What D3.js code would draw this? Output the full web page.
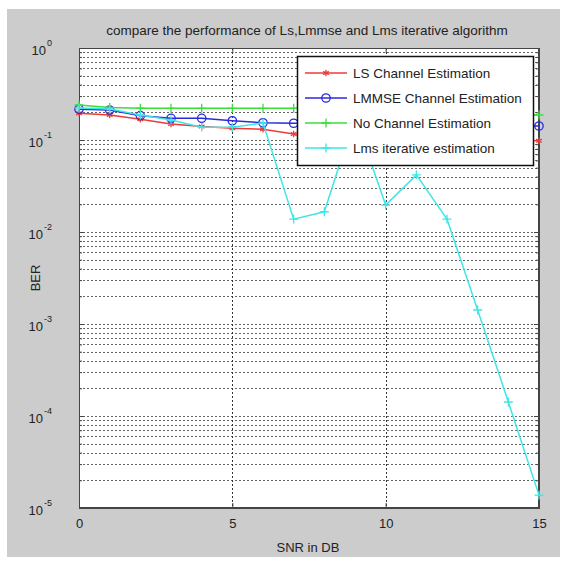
<!DOCTYPE html>
<html>
<head>
<meta charset="utf-8">
<script src="https://cdn.jsdelivr.net/npm/d3@7"></script>
<style>
  body { margin: 0; background: #fff; }
  svg text { font-family: "Liberation Sans", Arial, sans-serif; fill: #222; }
</style>
</head>
<body>
<svg width="566" height="561"></svg>
<script>
// data
var snr = [0, 1, 2, 3, 4, 5, 6, 7, 8, 9, 10, 11, 12, 13, 14, 15];
var lsBer = [0.195, 0.187, 0.168, 0.149, 0.140, 0.134, 0.131, 0.116, 0.113, 0.111, 0.109, 0.107, 0.105, 0.102, 0.100, 0.098];
var lmmseBer = [0.216, 0.212, 0.184, 0.172, 0.172, 0.162, 0.154, 0.152, 0.151, 0.150, 0.149, 0.148, 0.147, 0.145, 0.144, 0.142];
var noEstBer = [0.240, 0.226, 0.222, 0.221, 0.221, 0.221, 0.221, 0.221, 0.218, 0.214, 0.210, 0.206, 0.202, 0.197, 0.192, 0.187];
var lmsBer = [0.223, 0.217, 0.187, 0.165, 0.138, 0.138, 0.153, 0.0138, 0.0166, 0.18, 0.0196, 0.0418, 0.0138, 0.00142, 0.000142, 0.0000138];
var seriesNames = ["LS Channel Estimation", "LMMSE Channel Estimation", "No Channel Estimation", "Lms iterative estimation"];
var xTicks = [0, 5, 10, 15];
var yExponents = [0, -1, -2, -3, -4, -5];

var svg = d3.select("svg");

// gray figure background
svg.append("rect").attr("x", 7).attr("y", 9).attr("width", 553).attr("height", 548).attr("fill", "#cccccc");

// plot box (window.top is reserved, so use own names)
var pL = 79, pR = 539, pT = 48, pB = 508;

var x = d3.scaleLinear().domain([0, 15]).range([pL, pR]);
var y = d3.scaleLog().domain([1e-5, 1]).range([pB, pT]);

svg.append("rect").attr("x", pL).attr("y", pT).attr("width", pR - pL).attr("height", pB - pT).attr("fill", "#fff");

// minor + major grid on the log axis
var minorVals = [];
yExponents.slice(1).forEach(function (e) {
    for (var m = 2; m <= 9; m++) minorVals.push(m * Math.pow(10, e));
});
var majorVals = yExponents.map(function (e) { return Math.pow(10, e); });

var grid = svg.append("g").attr("stroke", "#666").attr("stroke-dasharray", "2,2").attr("stroke-width", 1);
grid.selectAll(".hg").data(minorVals.concat(majorVals)).enter().append("line")
    .attr("x1", pL).attr("x2", pR)
    .attr("y1", function (d) { return Math.round(y(d)) + 0.5; })
    .attr("y2", function (d) { return Math.round(y(d)) + 0.5; });
grid.selectAll(".vg").data([5, 10]).enter().append("line")
    .attr("y1", pT).attr("y2", pB)
    .attr("x1", function (d) { return Math.round(x(d)) + 0.5; })
    .attr("x2", function (d) { return Math.round(x(d)) + 0.5; })
    .attr("stroke", "#333");

// axes (ticks inside, like matlab)
var xAxis = d3.axisBottom(x).tickValues(xTicks).tickSize(-5).tickPadding(11).tickFormat(d3.format("d"));
var gx = svg.append("g").attr("transform", "translate(0," + pB + ")").call(xAxis);
svg.append("g").attr("transform", "translate(0," + pT + ")")
    .call(d3.axisTop(x).tickValues(xTicks).tickSize(-5).tickFormat(""));

var gy = svg.append("g").attr("transform", "translate(" + pL + ",0)")
    .call(d3.axisLeft(y).tickValues(majorVals).tickSize(-5).tickFormat(""));
svg.append("g").attr("transform", "translate(" + pL + ",0)")
    .call(d3.axisLeft(y).tickValues(minorVals).tickSize(-3).tickFormat(""));
svg.append("g").attr("transform", "translate(" + pR + ",0)")
    .call(d3.axisRight(y).tickValues(majorVals).tickSize(-5).tickFormat(""));
svg.append("g").attr("transform", "translate(" + pR + ",0)")
    .call(d3.axisRight(y).tickValues(minorVals).tickSize(-3).tickFormat(""));

svg.selectAll(".domain").attr("stroke", "#444");
svg.selectAll(".tick line").attr("stroke", "#444");
gx.selectAll("text").attr("font-size", 13).attr("fill", "#222").style("font-family", "Liberation Sans, Arial, sans-serif");

// y tick labels 10^e, one text with a raised tspan
gy.selectAll(".tick").each(function (d) {
    var t = d3.select(this).append("text").attr("x", -27).attr("y", 6)
        .attr("font-size", 13).attr("fill", "#222")
        .style("font-family", "Liberation Sans, Arial, sans-serif");
    t.append("tspan").text("10");
    t.append("tspan").attr("dy", -9).attr("dx", 1).attr("font-size", 9)
        .text(String(Math.round(Math.log10(d))));
});

// box
svg.append("rect").attr("x", pL + 0.5).attr("y", pT + 0.5).attr("width", pR - pL - 1).attr("height", pB - pT - 1)
    .attr("fill", "none").attr("stroke", "#444");

// series
var series = [
    { name: seriesNames[0], values: lsBer, color: "#f03a3a", symbol: d3.symbolAsterisk, size: 30 },
    { name: seriesNames[1], values: lmmseBer, color: "#2a2ae0", symbol: d3.symbolCircle, size: 55 },
    { name: seriesNames[2], values: noEstBer, color: "#3ae03a", symbol: d3.symbolPlus, size: 28 },
    { name: seriesNames[3], values: lmsBer, color: "#3ee6e6", symbol: d3.symbolPlus, size: 28 }
];

var line = d3.line()
    .x(function (d, i) { return x(snr[i]); })
    .y(function (d) { return y(d); });

series.forEach(function (s) {
    var g = svg.append("g");
    g.append("path").attr("d", line(s.values)).attr("fill", "none").attr("stroke", s.color).attr("stroke-width", 1.5);
    g.selectAll("path.m").data(s.values).enter().append("path").attr("class", "m")
        .attr("transform", function (d, i) { return "translate(" + x(snr[i]) + "," + y(d) + ")"; })
        .attr("d", d3.symbol().type(s.symbol).size(s.size))
        .attr("fill", "none").attr("stroke", s.color).attr("stroke-width", 1.3);
});

// legend
var lg = svg.append("g").attr("transform", "translate(297,56)");
lg.append("rect").attr("x", 0.5).attr("y", 0.5).attr("width", 236).attr("height", 109)
    .attr("fill", "#fff").attr("stroke", "#111").attr("stroke-width", 1.5);
series.forEach(function (s, i) {
    var yy = 17 + i * 25;
    lg.append("line").attr("x1", 8).attr("x2", 50).attr("y1", yy).attr("y2", yy)
        .attr("stroke", s.color).attr("stroke-width", 1.5);
    lg.append("path").attr("transform", "translate(29," + yy + ")")
        .attr("d", d3.symbol().type(s.symbol).size(s.size))
        .attr("fill", "none").attr("stroke", s.color).attr("stroke-width", 1.3);
    lg.append("text").attr("x", 56).attr("y", yy + 5).attr("font-size", 13.5).text(s.name);
});

// titles
svg.append("text").attr("x", 307).attr("y", 35).attr("text-anchor", "middle").attr("font-size", 13.5)
    .text("compare the performance of Ls,Lmmse and Lms iterative  algorithm");
svg.append("text").attr("x", 308).attr("y", 552).attr("text-anchor", "middle").attr("font-size", 13)
    .text("SNR in DB");
svg.append("text").attr("transform", "translate(40,278) rotate(-90)").attr("text-anchor", "middle").attr("font-size", 13)
    .text("BER");
</script>
</body>
</html>
